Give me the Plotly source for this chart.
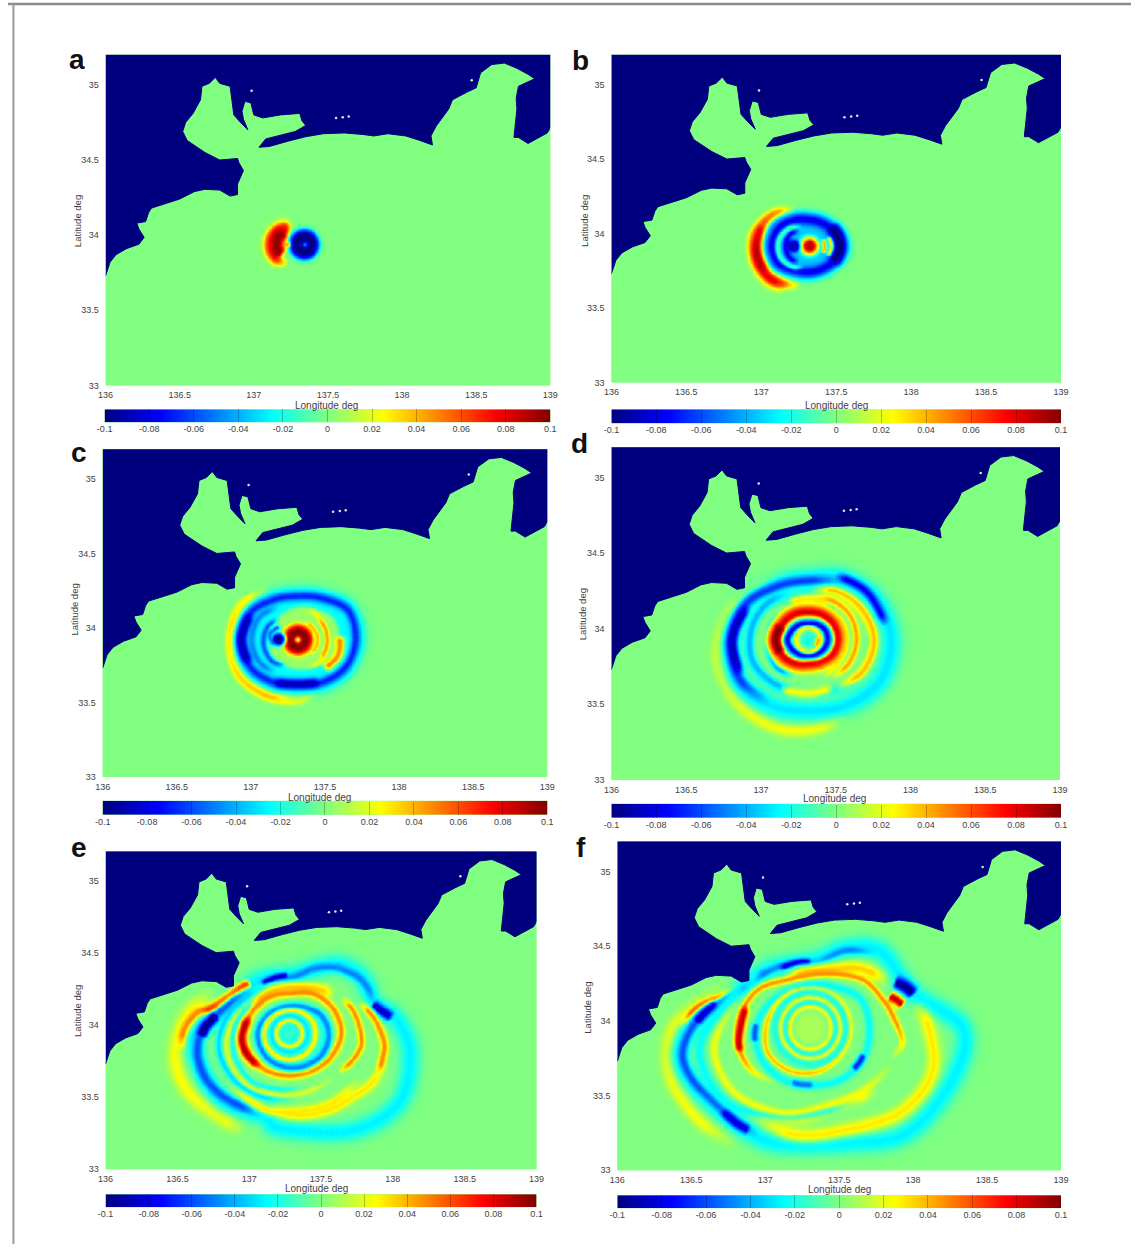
import numpy as np
import plotly.graph_objects as go
from plotly.colors import sample_colorscale

# ---------- data ----------
COAST_LON = [136.00,136.03,136.07,136.14,136.225,136.26,136.225,136.21,136.27,136.29,136.31,136.41,136.50,136.60,136.67,136.77,136.84,136.89,136.89,136.93,136.90,136.89,136.77,136.67,136.55,136.52,136.54,136.59,136.64,136.65,136.70,136.74,136.77,136.84,136.85,136.865,136.91,136.96,136.93,136.92,136.94,136.98,137.00,137.06,137.18,137.31,137.325,137.35,137.28,137.155,137.08,137.035,137.105,137.23,137.35,137.47,137.61,137.735,137.81,137.905,138.025,138.12,138.205,138.195,138.23,138.315,138.34,138.435,138.50,138.53,138.605,138.69,138.775,138.85,138.895,138.85,138.785,138.77,138.775,138.755,138.785,138.85,138.92,138.98,139.00,139.00,136.00]
COAST_LAT = [33.73,33.82,33.87,33.91,33.94,33.985,34.04,34.08,34.09,34.15,34.18,34.21,34.24,34.29,34.305,34.30,34.26,34.27,34.34,34.43,34.48,34.51,34.50,34.55,34.63,34.69,34.75,34.81,34.90,34.99,35.01,35.05,35.01,34.99,34.90,34.80,34.75,34.70,34.77,34.825,34.89,34.88,34.80,34.78,34.80,34.81,34.76,34.73,34.69,34.66,34.64,34.585,34.59,34.625,34.655,34.675,34.68,34.67,34.66,34.675,34.66,34.63,34.60,34.66,34.725,34.84,34.90,34.95,34.98,35.08,35.135,35.145,35.11,35.07,35.04,35.02,34.99,34.91,34.84,34.65,34.65,34.61,34.65,34.68,34.715,35.20,35.20]
ISLAND_LON = [136.985,137.555,137.60,137.64,138.47]
ISLAND_LAT = [34.96,34.78,34.785,34.79,35.03]

X_TICKS = [136,136.5,137,137.5,138,138.5,139]
X_LABELS = ["136","136.5","137","137.5","138","138.5","139"]
Y_TICKS = [33,33.5,34,34.5,35]
Y_LABELS = ["33","33.5","34","34.5","35"]
CB_TICKS = [-0.1,-0.08,-0.06,-0.04,-0.02,0,0.02,0.04,0.06,0.08,0.1]
CB_LABELS = ["-0.1","-0.08","-0.06","-0.04","-0.02","0","0.02","0.04","0.06","0.08","0.1"]
PANEL_NAMES = ["a","b","c","d","e","f"]

# wave crests: (value, start angle or angle list in degrees, radii in degrees[, lon, lat])
CENTRES = {"a":(137.28,33.94),"b":(137.32,33.92),"c":(137.313,33.925),"d":(137.316,33.93),"e":(137.277,33.943),"f":(137.302,33.955)}

RINGS_A = [
 (0.025,100,[.12,.16,.19,.195,.175,.135]),
 (0.05,100,[.11,.15,.178,.183,.163,.125]),
 (0.08,110,[.09,.125,.14,.14,.12]),
 (0.097,130,[.11,.125,.125,.115]),
 (-0.028,0,[.115],137.337,33.94),
 (-0.07,0,[.1],137.337,33.94),
 (-0.1,0,[.08],137.337,33.94),
 (-0.03,0,[.012],137.342,33.94),
 (0.07,0,[.012],137.226,33.94),
]
WIDTHS_A = [4,5,13,9,0,0,0,0,0]

RINGS_B = [
 (0.025,110,[.26,.33,.39,.38,.33,.27]),
 (0.05,110,[.25,.315,.37,.365,.315,.26]),
 (0.08,125,[.25,.31,.345,.345,.31]),
 (0.095,155,[.33,.345,.335]),
 (-0.03,0,[.24,.22,.20,.20,.23,.28,.285,.27,.22,.20,.20,.22]),
 (-0.035,0,[.2,.19,.175,.175,.2,.24,.25,.235,.19,.175,.175,.19]),
 (-0.08,0,[.2,.19,.175,.175,.2,.24,.25,.235,.19,.175,.175,.19]),
 (-0.1,-40,[.19,.2,.2,.19]),
 (-0.08,120,[.13,.155,.16,.155,.13]),
 (-0.01,110,[.14,.18,.21,.21,.18,.14]),
 (-0.02,0,[.07]),
 (0.045,-30,[.1,.1,.1]),
 (0.03,-30,[.14,.145,.14]),
 (0.025,0,[.065]),
 (0.09,0,[.04]),
 (-0.09,0,[.04],137.213,33.92),
]
WIDTHS_B = [5,6,10,7,8,0,8,9,4,3,0,2,2,0,0,0]

RINGS_C = [
 (0.025,120,[.40,.45,.465,.47,.44,.41,.37]),
 (0.05,120,[.385,.43,.445,.45,.42,.39]),
 (0.07,135,[.40,.43,.445]),
 (-0.03,0,[.41,.41,.34,.31,.33,.385,.40,.39,.35,.32,.35,.39]),
 (-0.025,0,[.38,.38,.31,.28,.3,.355,.37,.36,.32,.29,.32,.36]),
 (-0.07,0,[.39,.39,.32,.29,.31,.365,.38,.37,.33,.30,.33,.37]),
 (-0.09,150,[.365,.38,.37]),
 (-0.09,240,[.33,.30,.33]),
 (0.005,0,[.28,.28,.24,.22,.2,.2,.2,.2,.2,.2,.22,.26]),
 (-0.05,120,[.26,.30,.31,.30,.27]),
 (-0.06,130,[.19,.225,.235,.225,.19]),
 (-0.06,140,[.15,.19,.16]),
 (0.05,-50,[.27,.29,.29]),
 (0.03,-70,[.21,.21,.2,.2,.21,.21]),
 (0.045,-40,[.2,.2,.2,.2]),
 (0.04,-50,[.13,.135,.135,.13,.13]),
 (0.05,0,[.11]),
 (0.08,0,[.09]),
 (0.1,0,[.075]),
 (-0.02,0,[.014]),
 (-0.03,0,[.05],137.183,33.928),
 (-0.1,0,[.035],137.183,33.928),
]
WIDTHS_C = [5,6,6,12,0,6,7,6,0,4,3,3,6,2,2,2,0,0,0,0,0,0]

RINGS_D = [
 (0.025,100,[.42,.47,.56,.62,.63,.62,.58,.5]),
 (0.045,150,[.53,.58,.595]),
 (0.08,125,[.465,.53,.575]),
 (-0.03,0,[.55,.52,.46,.40,.42,.49,.54,.55,.5,.47,.5,.55]),
 (-0.065,60,[.45,.39,.41,.48,.52,.53,.49]),
 (-0.08,10,[.53,.50,.47]),
 (-0.09,150,[.47,.51,.52]),
 (-0.02,0,[.43,.42,.36,.32,.33,.38,.41,.41,.38,.36,.38,.42]),
 (0.015,-60,[.37,.4,.42,.38,.32,.28]),
 (0.04,-60,[.37,.42,.44,.41,.37,.32]),
 (-0.04,110,[.34,.37,.39,.4,.37,.34]),
 (0.025,240,[.38,.355,.36]),
 (0.045,-60,[.30,.31,.32,.32,.3,.26]),
 (0.03,60,[.28,.27,.28]),
 (0.03,-70,[.27,.25,.25,.25,.25]),
 (-0.05,130,[.25,.27,.28,.28,.26]),
 (0.03,0,[.24,.24,.23,.22,.23,.25,.27,.25,.22,.2,.21,.23]),
 (0.05,0,[.215,.215,.21,.205,.215,.225,.24,.225,.2,.18,.185,.205]),
 (0.085,0,[.19,.19,.185,.18,.19,.2,.215,.2,.175,.155,.16,.18]),
 (0.1,150,[.2,.215,.2]),
 (-0.03,0,[.145,.14,.125,.115,.12,.13,.15,.14,.125,.11,.12,.135]),
 (-0.08,0,[.125,.125,.115,.105,.115,.125,.14,.125,.11,.1,.105,.115]),
 (0.03,0,[.08]),
 (-0.02,0,[.05]),
 (0.045,-40,[.06,.06,.06]),
]
WIDTHS_D = [9,7,5,16,7,6,7,8,5,5,5,6,4,6,3,4,5,4,6,9,5,4,2,0,2]

RINGS_E = [
 (0.025,[150,170,191,209,230,247],[.58,.72,.81,.81,.75,.74]),
 (-0.028,[8,19,38,56,85,125,175,190,222,253,265,303,328,351],[.75,.63,.635,.575,.41,.43,.61,.67,.66,.6,.66,.8,.9,.85]),
 (0.05,[127,137,158,168,179,190],[.45,.47,.55,.665,.74,.76]),
 (0.075,[127,137,158,168],[.44,.46,.53,.64]),
 (-0.05,[125,105,85,70,56,45,38,28,19],[.41,.40,.395,.48,.555,.595,.62,.63,.615]),
 (-0.09,[120,105,90],[.40,.40,.41]),
 (-0.09,[20,14,8],[.61,.66,.73]),
 (-0.06,[125,151,175,190,206,222,238,253],[.41,.458,.585,.65,.663,.636,.60,.57]),
 (-0.1,[165,175,183],[.52,.585,.62]),
 (0.03,[-15,-30,-45,-60,-75,-90,-105],[.68,.67,.62,.6,.58,.56,.53]),
 (0.05,[25,10,-5,-15,-25],[.53,.60,.66,.67,.68]),
 (0.03,[220,250,270,300,330],[.55,.55,.54,.56,.6]),
 (-0.035,[100,130,160,190,220,250,280],[.34,.37,.44,.50,.50,.47,.45]),
 (0.02,[130,170,200,230,260,290,320],[.34,.41,.46,.46,.43,.42,.44]),
 (-0.025,[110,140,170,200,230,260,290],[.30,.33,.38,.41,.42,.39,.39]),
 (0.035,[40,60,90,120,150],[.42,.36,.32,.32,.33]),
 (0.05,[35,20,5,-10,-25,-40],[.44,.47,.49,.505,.47,.43]),
 (-0.015,0,[.28,.26,.22,.2,.2,.21,.23,.23,.24,.24,.25,.27]),
 (0.05,0,[.36,.35,.32,.28,.29,.30,.325,.32,.30,.29,.3,.33]),
 (0.09,[155,170,185,200,215,230],[.305,.315,.335,.335,.32,.31]),
 (-0.05,0,[.275,.255,.21,.19,.19,.205,.22,.225,.23,.235,.25,.27]),
 (0.03,0,[.18,.18,.17,.16,.16,.17,.18,.18,.18,.18,.18,.18]),
 (-0.03,0,[.125]),
 (0.03,0,[.09]),
 (-0.02,0,[.05]),
]
WIDTHS_E = [12,16,6,4,5,3,7,7,7,7,5,6,5,3,3,8,4,0,5,6,5,3,3,2,2]

RINGS_F = [
 (0.025,[120,147,170,183,200,220,240],[.5,.56,.8,.95,1.0,.97,.92]),
 (-0.028,[19,47,65,84,124,145,160,172,182,192,203,218,238,255,288,313,340,360],[.73,.70,.59,.46,.48,.53,.60,.73,.83,.90,.88,.83,.81,.80,.81,.96,1.02,1.03]),
 (0.06,[133,147,159,169,180],[.49,.535,.625,.77,.90]),
 (0.03,[15,0,-20,-43,-72,-100,-130],[.72,.8,.875,.83,.72,.72,.70]),
 (-0.05,[145,124,105,84,65,47],[.52,.47,.455,.447,.575,.68]),
 (-0.09,[118,100,88],[.455,.45,.445]),
 (-0.06,[124,145,160,172,182,192,203,218,232,245],[.47,.52,.59,.72,.82,.885,.87,.816,.80,.80]),
 (-0.085,[222,232,240],[.81,.81,.80]),
 (-0.09,[165,172,178],[.65,.72,.78]),
 (-0.1,[29,23,17],[.64,.70,.74]),
 (0.09,[22,18,13],[.57,.61,.65]),
 (0.03,[230,260,290,320],[.70,.62,.56,.62]),
 (0.03,[232,245],[.67,.66]),
 (-0.025,[130,160,190,220,250,280,310],[.5,.58,.76,.76,.62,.56,.6]),
 (0.025,[150,190,220,250,280,310,340],[.52,.66,.67,.6,.53,.55,.62]),
 (0.035,[30,50,70,90,120],[.62,.52,.42,.38,.38]),
 (0.05,[239,215,192,168,144,116,73,42,21,9,-9,-22],[.43,.487,.5,.477,.437,.358,.38,.48,.525,.56,.63,.573]),
 (0.09,[160,175,190,200],[.46,.465,.49,.5]),
 (-0.025,0,[.4,.39,.32,.29,.29,.32,.37,.39,.39,.38,.4,.41]),
 (-0.06,[175,185,195],[.37,.38,.39]),
 (-0.07,[-25,-35,-45],[.40,.40,.40]),
 (-0.055,[250,260,275],[.38,.38,.38]),
 (0.04,0,[.27,.27,.265,.26,.27,.28,.30,.33,.32,.30,.28,.27]),
 (-0.02,0,[.24]),
 (0.03,0,[.2]),
 (-0.02,0,[.17]),
 (0.025,0,[.14]),
 (0.008,0,[.1]),
]
WIDTHS_F = [10,16,4,10,4,3,6,6,6,9,7,8,5,8,5,10,4,5,6,4,4,4,3,6,2,4,2,0]

# ---------- layout (page pixels) ----------
W, H = 1139, 1249
PANEL_BOX = {"a":(99,550,55,387),"b":(612,1068,55,384),"c":(96,547,451,780),"d":(612,1067,449,783),"e":(99,536,855,1174),"f":(618,1068,845,1175)}
BAR_BOX = {"a":(98,550,411,424),"b":(612,1068,411,425),"c":(96,547,804,818),"d":(612,1068,807,821),"e":(99,536,1199,1212),"f":(618,1068,1200,1213)}
XLABEL_AT = {"a":(323,407),"b":(840,407),"c":(316,801),"d":(838,802),"e":(313,1193),"f":(843,1194)}
YLABEL_AT = {"a":(70,222),"b":(584,222),"c":(68,612),"d":(583,617),"e":(71,1015),"f":(588,1012)}
LETTER_AT = {"a":(70,60),"b":(581,61),"c":(72,454),"d":(580,445),"e":(72,851),"f":(581,851)}
RINGS = {"a":(RINGS_A,WIDTHS_A),"b":(RINGS_B,WIDTHS_B),"c":(RINGS_C,WIDTHS_C),"d":(RINGS_D,WIDTHS_D),"e":(RINGS_E,WIDTHS_E),"f":(RINGS_F,WIDTHS_F)}

JET = [[0,"#00007f"],[.125,"#0000ff"],[.375,"#00ffff"],[.625,"#ffff00"],[.875,"#ff0000"],[1,"#7f0000"]]
GRID_LON = np.arange(136.0, 139.0001, 0.01)
GRID_LAT = np.arange(33.0, 35.2001, 0.01)
LON2, LAT2 = np.meshgrid(GRID_LON, GRID_LAT)
PX_PER_DEG = 150.0

def catmull(xs, ys, closed):
    p = np.column_stack([xs, ys])
    if closed:
        p = np.vstack([p[-1], p, p[0], p[1]])
    else:
        p = np.vstack([2*p[0]-p[1], p, 2*p[-1]-p[-2]])
    out = []
    for i in range(1, len(p)-2):
        for t in np.linspace(0, 1, 14, endpoint=False):
            a,b,c,d = p[i-1],p[i],p[i+1],p[i+2]
            out.append(0.5*(2*b+(c-a)*t+(2*a-5*b+4*c-d)*t*t+(3*b-a-3*c+d)*t**3))
    return np.array(out)

def paint(z, spec, width, centre):
    v, ang, rad = spec[:3]
    cx, cy = (spec[3], spec[4]) if len(spec) == 5 else centre
    rad = list(rad)*12 if len(rad) == 1 else list(rad)
    angs = [ang+30*i for i in range(len(rad))] if not isinstance(ang, list) else list(ang)
    closed = abs(angs[-1]-angs[0]) >= 300
    t = np.radians(angs); r = np.array(rad)
    pts = catmull(cx+r*np.cos(t), cy+r*np.sin(t), closed)
    if width == 0:
        # a filled patch: soft-edged inside test in polar form around its own centre
        dx, dy = LON2-cx, LAT2-cy
        rho = np.hypot(dx, dy)
        th = np.arctan2(dy, dx)
        pa = np.arctan2(pts[:,1]-cy, pts[:,0]-cx); pr = np.hypot(pts[:,0]-cx, pts[:,1]-cy)
        o = np.argsort(pa)
        edge = np.interp(th, pa[o], pr[o], period=2*np.pi)
        m = 1/(1+np.exp((rho-edge)/(1.0/PX_PER_DEG)))
    else:
        sigma = (width+1.5)/2.355/PX_PER_DEG
        reach = 4*sigma
        i0 = max(np.searchsorted(GRID_LON, pts[:,0].min()-reach)-1, 0)
        i1 = min(np.searchsorted(GRID_LON, pts[:,0].max()+reach)+1, len(GRID_LON))
        j0 = max(np.searchsorted(GRID_LAT, pts[:,1].min()-reach)-1, 0)
        j1 = min(np.searchsorted(GRID_LAT, pts[:,1].max()+reach)+1, len(GRID_LAT))
        m = np.zeros_like(z)
        if i1 > i0 and j1 > j0:
            gx = LON2[j0:j1,i0:i1].ravel()[:,None]; gy = LAT2[j0:j1,i0:i1].ravel()[:,None]
            d2 = (gx-pts[:,0])**2+(gy-pts[:,1])**2
            k = d2.argmin(axis=1)
            dm = d2[np.arange(len(k)),k]
            if closed:
                taper = 1.0
            else:
                u = k/(len(pts)-1)
                taper = np.clip(np.minimum(u,1-u)/0.14,0,1)
            m[j0:j1,i0:i1] = (np.exp(-dm/(2*sigma**2))*taper).reshape(j1-j0,i1-i0)
    return z*(1-m)+v*m

fig = go.Figure()
layout = {}
annotations = []
FONT = "Liberation Sans, Arial, sans-serif"
TXT = "#3f3f3f"

for i, name in enumerate(PANEL_NAMES):
    n = 2*i+1
    xa, ya = f"x{n}", f"y{n}"
    x0,x1,y0,y1 = PANEL_BOX[name]
    layout[f"xaxis{n}"] = dict(domain=[x0/W,x1/W],range=[136,139],anchor=ya,tickmode="array",tickvals=X_TICKS,ticktext=X_LABELS,
        ticks="outside",ticklen=1,tickcolor="rgba(0,0,0,0)",tickfont=dict(size=9,color=TXT,family=FONT),showgrid=False,zeroline=False,showline=False,tickangle=0)
    layout[f"yaxis{n}"] = dict(domain=[1-y1/H,1-y0/H],range=[33,35.2],anchor=xa,tickmode="array",tickvals=Y_TICKS,ticktext=Y_LABELS,
        ticks="outside",ticklen=4,tickcolor="rgba(0,0,0,0)",tickfont=dict(size=9,color=TXT,family=FONT),showgrid=False,zeroline=False,showline=False)
    specs, widths = RINGS[name]
    assert len(specs) == len(widths), name
    field = np.zeros_like(LON2)
    for spec, w in zip(specs, widths):
        field = paint(field, spec, w, CENTRES[name])
    fig.add_trace(go.Heatmap(x=GRID_LON,y=GRID_LAT,z=np.round(field,4).astype(float),zmin=-0.1,zmax=0.1,colorscale=JET,showscale=False,zsmooth="best",xaxis=xa,yaxis=ya,hoverinfo="skip"))
    fig.add_trace(go.Scatter(x=COAST_LON,y=COAST_LAT,mode="lines",fill="toself",fillcolor="#00007f",line=dict(color="#00007f",width=1),xaxis=xa,yaxis=ya,hoverinfo="skip",showlegend=False))
    fig.add_trace(go.Scatter(x=ISLAND_LON,y=ISLAND_LAT,mode="markers",marker=dict(color="#cfeee0",size=2.5),xaxis=xa,yaxis=ya,hoverinfo="skip",showlegend=False))
    # colour bar
    m = 2*i+2
    xb, yb = f"x{m}", f"y{m}"
    bx0,bx1,by0,by1 = BAR_BOX[name]
    fig.add_trace(go.Heatmap(x=CB_TICKS,y=[0,1],z=[CB_TICKS,CB_TICKS],zmin=-0.1,zmax=0.1,colorscale=JET,showscale=False,zsmooth="best",xaxis=xb,yaxis=yb,hoverinfo="skip"))
    layout[f"xaxis{m}"] = dict(domain=[bx0/W,bx1/W],range=[-0.1,0.1],anchor=yb,tickmode="array",tickvals=CB_TICKS,ticktext=CB_LABELS,
        ticks="inside",ticklen=13,tickcolor="rgba(0,0,0,0.25)",tickwidth=1,tickfont=dict(size=9,color=TXT,family=FONT),showgrid=False,zeroline=False,showline=False,tickangle=0)
    layout[f"yaxis{m}"] = dict(domain=[1-by1/H,1-by0/H],range=[0,1],anchor=xb,showticklabels=False,ticks="",showgrid=False,zeroline=False,showline=False)
    # texts
    px,py = XLABEL_AT[name]
    annotations.append(dict(text="Longitude deg",x=px/W,y=1-py/H,xref="paper",yref="paper",showarrow=False,font=dict(size=10,color=TXT,family=FONT),xanchor="center",yanchor="middle"))
    px,py = YLABEL_AT[name]
    annotations.append(dict(text="Latitude deg",x=px/W,y=1-py/H,xref="paper",yref="paper",showarrow=False,textangle=-90,font=dict(size=9.5,color=TXT,family=FONT),xanchor="center",yanchor="middle"))
    px,py = LETTER_AT[name]
    annotations.append(dict(text=f"<b>{name}</b>",x=px/W,y=1-py/H,xref="paper",yref="paper",showarrow=False,font=dict(size=28,color="#111",family=FONT),xanchor="center",yanchor="middle"))

fig.update_layout(width=W,height=H,autosize=False,margin=dict(l=0,r=0,t=0,b=0),paper_bgcolor="white",plot_bgcolor="#80ff80",showlegend=False,
    annotations=annotations,
    shapes=[dict(type="line",xref="paper",yref="paper",x0=0,x1=1,y0=1-4/H,y1=1-4/H,line=dict(color="#8c8c8c",width=2.5)),
            dict(type="line",xref="paper",yref="paper",x0=5.5/W,x1=5.5/W,y0=0,y1=1-4/H,line=dict(color="#9a9a9a",width=2))],
    **layout)
fig.write_html("out.html",config={"displayModeBar":False},
    post_script="var s=document.createElement('style');s.textContent='html,body{margin:0!important;padding:0!important;overflow:hidden}';document.head.appendChild(s);document.body.setAttribute('style','margin:0;padding:0');")
